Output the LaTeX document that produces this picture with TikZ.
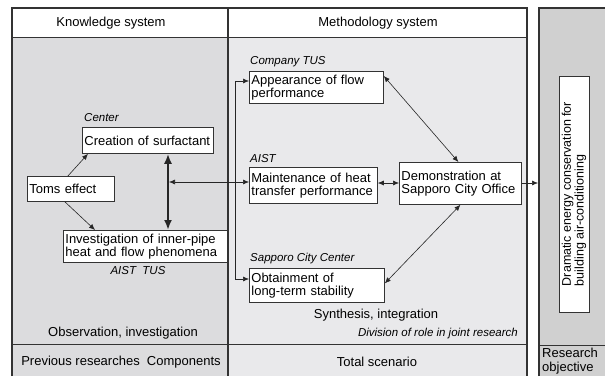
\documentclass[tikz,border=0pt]{standalone}
\usepackage{fontspec}
\setmainfont{Liberation Sans}
\usetikzlibrary{arrows.meta}

\definecolor{edgegray}{HTML}{333333}
\definecolor{knowfill}{HTML}{DCDCDE}
\definecolor{methfill}{HTML}{E9E9EB}
\definecolor{objfill}{HTML}{D0D0D0}

\begin{document}
\begin{tikzpicture}
  [x=1pt,y=-1pt,
   box/.style={draw=edgegray,fill=white,line width=0.8pt,inner sep=2pt,align=left,
     anchor=north west,font=\fontsize{13}{13.5}\selectfont},
   lbl/.style={inner sep=0pt,font=\fontsize{13}{13.5}\selectfont},
   role/.style={inner sep=0pt,anchor=west,font=\fontsize{11.5}{12}\selectfont\itshape},
   arr/.style={-{Latex[length=6pt,width=5pt]},line width=0.6pt,draw=black!85},
   darr/.style={{Latex[length=6pt,width=5pt]}-{Latex[length=6pt,width=5pt]},line width=0.6pt,draw=black!85}]
  \useasboundingbox (0,0) rectangle (605,376);

  % panels
  \fill[white] (12,8) rectangle (527,37);
  \fill[knowfill] (12,37) rectangle (228,376);
  \fill[methfill] (228,37) rectangle (527,376);
  \fill[objfill] (539,8) rectangle (605,376);
  \draw[edgegray,line width=0.8pt] (12,37) -- (527,37);
  \draw[edgegray,line width=0.8pt] (12,344) -- (527,344);
  \draw[edgegray,line width=0.8pt] (539,345) -- (605,345);
  \draw[edgegray,line width=1.6pt] (228,8) -- (228,376);
  \draw[edgegray,line width=2.6pt] (12,376) -- (12,8) -- (527,8) -- (527,376);
  \draw[edgegray,line width=2.6pt] (539,376) -- (539,8) -- (605,8);

  % headings and footers
  \node[lbl] (hknow) at (111,23) {Knowledge system};
  \node[lbl] (hmeth) at (378,23) {Methodology system};
  \node[lbl] (obs) at (123,333) {Observation, investigation};
  \node[lbl] (syn) at (376,315) {Synthesis, integration};
  \node[role,anchor=east] (div) at (518,334) {Division of role in joint research};
  \node[lbl] (prev) at (121,362) {Previous researches\ \ Components};
  \node[lbl] (total) at (377,362) {Total scenario};
  \node[lbl,anchor=west,align=left,font=\fontsize{13}{14}\selectfont] (resobj) at (542,361.5) {Research\\objective};

  % knowledge boxes
  \node[role] (lcen) at (84,118) {Center};
  \node[box,text width=127pt,minimum height=26pt] (cre) at (82,127) {Creation of surfactant};
  \node[box,text width=83pt,minimum height=25pt] (toms) at (27,176) {Toms effect};
  \node[box,text width=160pt,minimum height=32pt] (inv) at (63,230)
    {Investigation of inner-pipe\\heat and flow phenomena};
  \node[role,anchor=center] (lait) at (138,271) {AIST\ \ TUS};

  % methodology boxes
  \node[role] (lcom) at (250,62) {Company TUS};
  \node[box,text width=130pt,minimum height=32pt] (app) at (249,71)
    {Appearance of flow\\performance};
  \node[role] (laist) at (250,159) {AIST};
  \node[box,text width=124pt,minimum height=36pt] (mnt) at (249,167)
    {Maintenance of heat\\transfer performance};
  \node[role] (lsap) at (250,259) {Sapporo City Center};
  \node[box,text width=131pt,minimum height=34pt] (obt) at (249,268)
    {Obtainment of\\long-term stability};
  \node[box,text width=118pt,minimum height=42pt] (demo) at (399,162)
    {Demonstration at\\Sapporo City Office};

  % objective
  \node[draw=edgegray,fill=white,line width=0.8pt,minimum width=236pt,minimum height=30pt,
    inner sep=2pt,rotate=90,align=left,font=\fontsize{12.5}{11.5}\selectfont] (goal) at (574,194)
    {Dramatic energy conservation for\\building air-conditioning};

  \coordinate (ax) at (168,182);
  \coordinate (br) at (235,182);
  \coordinate (objw) at (538,183);

  % connectors
  \draw[arr] ([xshift=-3pt]toms.north) -- ([xshift=6pt]cre.south west);
  \draw[arr] ([xshift=-6pt]toms.south) -- ([xshift=32pt]inv.north west);
  \draw[-{Latex[length=10pt,width=8pt]},line width=2.2pt,draw=black!85] (ax) -- (ax |- cre.south);
  \draw[-{Latex[length=10pt,width=8pt]},line width=2.2pt,draw=black!85] (ax) -- (ax |- inv.north);
  \draw[darr] ([xshift=1pt]ax) -- (mnt.west |- ax);
  \draw[line width=0.6pt,draw=black!85] (br |- 0,81) -- (br |- 0,279);
  \draw[arr] (br |- 0,81) -- (app.west |- 0,81);
  \draw[arr] (br |- 0,279) -- (obt.west |- 0,279);
  \draw[darr] (mnt.east |- 0,183) -- (demo.west |- 0,183);
  \draw[darr] ([yshift=-5pt]app.north east) -- ([xshift=-2pt]demo.north);
  \draw[darr] ([yshift=2pt]obt.east) -- (demo.south);
  \draw[arr] (demo.east |- objw) -- (objw);
\end{tikzpicture}
\end{document}
